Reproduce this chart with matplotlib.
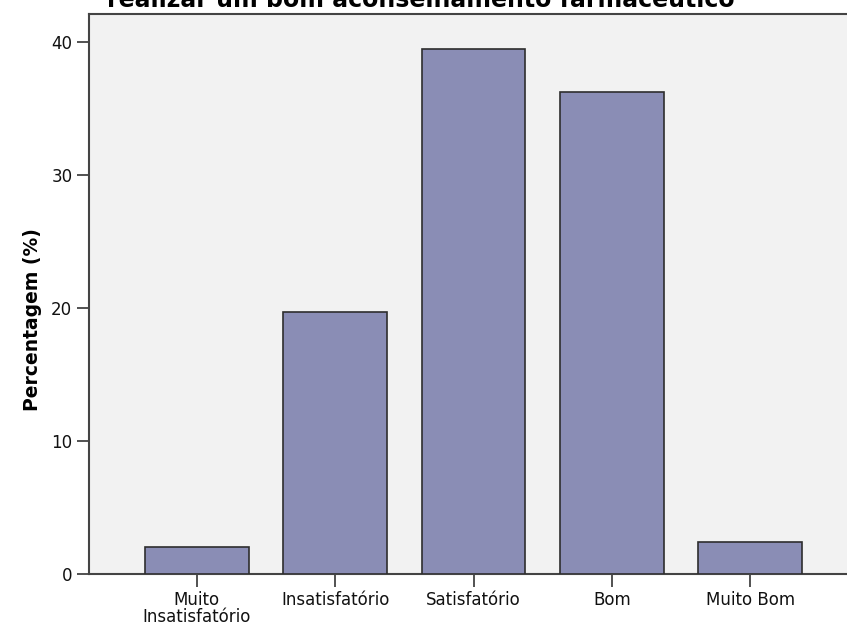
import matplotlib
matplotlib.use("Agg")
import matplotlib.pyplot as plt

categories = ["Muito\nInsatisfatório", "Insatisfatório", "Satisfatório", "Bom", "Muito Bom"]
values = [2.0, 19.7, 39.5, 36.2, 2.4]
yticks = [0, 10, 20, 30, 40]
title = "realizar um bom aconselhamento farmacêutico"
ylabel = "Percentagem (%)"

W, H = 847, 628
fig = plt.figure(figsize=(W / 100, H / 100), dpi=100)
fig.patch.set_facecolor("white")
ax = fig.add_axes([89 / W, (H - 574) / H, (W - 89) / W, (574 - 14) / H])
ax.set_facecolor("#F2F2F2")

x = list(range(len(categories)))
ax.bar(x, values, width=0.75, color="#8A8DB5", edgecolor="#2E2E2E", linewidth=1.2, zorder=3)

ax.set_xlim(-0.78, 4.70)
ax.set_ylim(0, 42.1)
ax.set_xticks(x)
ax.set_xticklabels(categories, fontsize=12, color="#111111", linespacing=0.95)
ax.set_yticks(yticks)
ax.set_yticklabels([str(v) for v in yticks], fontsize=12, color="#111111")
ax.tick_params(axis="both", direction="out", length=9, width=1.2, color="#333333", pad=3)

for s in ["left", "bottom", "top"]:
    ax.spines[s].set_color("#444444")
    ax.spines[s].set_linewidth(1.5)
ax.spines["right"].set_visible(False)

ax.set_ylabel(ylabel, fontsize=13.5, fontweight="bold")
ax.yaxis.set_label_coords(-(89 - 42) / (W - 89), (574 - 320) / 560)
fig.text(421 / W, 1 - 7 / H, title, ha="center", va="baseline", fontsize=17, fontweight="bold")

fig.savefig("out.png", dpi=100)
